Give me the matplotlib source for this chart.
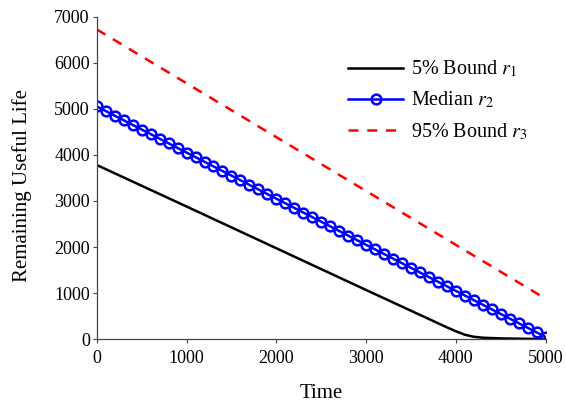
import numpy as np
import matplotlib.pyplot as plt

plt.rcParams['font.family'] = ['Liberation Serif', 'DejaVu Serif']
plt.rcParams['mathtext.fontset'] = 'stix'

# 5% bound r1
time_r1 = [0, 1000, 2000, 3000, 3500, 3900, 4000, 4100, 4200, 4300, 4500, 4800, 5000]
rul_r1 = [3780, 2880, 1975, 1070, 620, 260, 175, 100, 55, 35, 20, 10, 5]

# median r2, one marker every 100 time units
time_r2 = list(range(0, 5001, 100))
rul_r2 = [5050, 4950, 4850, 4750, 4650, 4550, 4450, 4350, 4250, 4150,
          4050, 3950, 3850, 3750, 3650, 3550, 3450, 3350, 3250, 3150,
          3050, 2950, 2850, 2750, 2650, 2550, 2450, 2350, 2250, 2150,
          2050, 1950, 1850, 1750, 1650, 1550, 1450, 1350, 1250, 1150,
          1050, 950, 850, 750, 650, 550, 450, 350, 250, 150, 50]

# 95% bound r3
time_r3 = [0, 1000, 2000, 3000, 4000, 5000]
rul_r3 = [6720, 5552, 4384, 3216, 2048, 880]

fig = plt.figure(figsize=(5.66, 4.03), dpi=100)
ax = fig.add_axes([0.171, 0.158, 0.793, 0.801])

ax.plot(time_r1, rul_r1, color='black', lw=1.8, label='5% Bound $r_1$')
ax.plot(time_r2, rul_r2, color='blue', lw=1.8, marker='o', ms=7,
        mfc='none', mew=1.8, label='Median $r_2$')
ax.plot(time_r3, rul_r3, color='red', lw=1.8, ls=(0, (4, 3.5)),
        label='95% Bound $r_3$')

ax.set_xlim(0, 5000)
ax.set_ylim(0, 7000)
ax.set_xticks([0, 1000, 2000, 3000, 4000, 5000])
ax.set_yticks([0, 1000, 2000, 3000, 4000, 5000, 6000, 7000])
ax.tick_params(labelsize=13, length=3, width=0.8, color='#444444')
ax.tick_params(axis='x', pad=5)
ax.tick_params(axis='y', pad=2)
ax.spines['top'].set_visible(False)
ax.spines['right'].set_visible(False)
for s in ('left', 'bottom'):
    ax.spines[s].set_color('#444444')
    ax.spines[s].set_linewidth(0.9)

ax.set_xlabel('Time', fontsize=15, labelpad=12)
ax.set_ylabel('Remaining Useful Life', fontsize=15)
ax.yaxis.set_label_coords(-0.145, 0.475)

ax.legend(loc='upper right', bbox_to_anchor=(1.0, 0.925), frameon=False,
          fontsize=14.5, handlelength=2.7, labelspacing=0.52, handletextpad=0.4)

fig.savefig('out.png', dpi=100)
